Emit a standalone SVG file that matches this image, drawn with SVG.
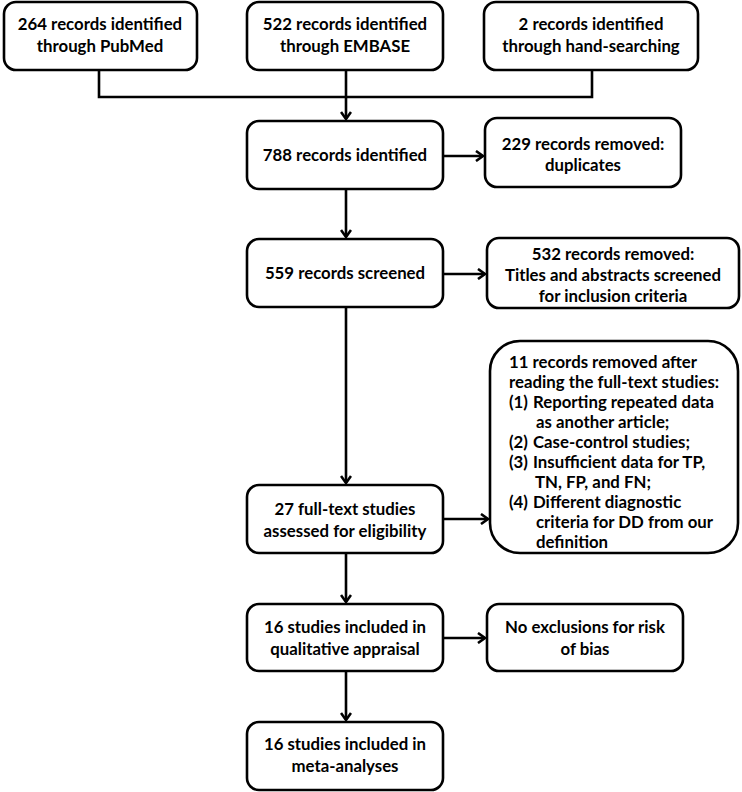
<svg xmlns="http://www.w3.org/2000/svg" width="742" height="792" viewBox="0 0 742 792">
<style>
.box{fill:#fff;stroke:#000;stroke-width:2.6}
.t{font-family:Lato,"Liberation Sans",sans-serif;font-weight:bold;font-size:16.8px;fill:#000;text-anchor:middle}
.l{text-anchor:start}
.c{fill:none;stroke:#000;stroke-width:2.6}
</style>
<defs>
<marker id="ah" markerWidth="12" markerHeight="12" refX="9" refY="6" orient="auto" markerUnits="userSpaceOnUse">
<path d="M2,1 L9,6 L2,11" fill="none" stroke="#000" stroke-width="2.6"/>
</marker>
</defs>
<g id="connectors">
<path class="c" d="M99,70 V97 H592 V70"/>
<path class="c" d="M346,70 V119" marker-end="url(#ah)"/>
<path class="c" d="M443,156 H483" marker-end="url(#ah)"/>
<path class="c" d="M346,189 V237" marker-end="url(#ah)"/>
<path class="c" d="M443,274 H485" marker-end="url(#ah)"/>
<path class="c" d="M346,307 V483" marker-end="url(#ah)"/>
<path class="c" d="M443,519 H488" marker-end="url(#ah)"/>
<path class="c" d="M346,553 V602" marker-end="url(#ah)"/>
<path class="c" d="M443,638 H485" marker-end="url(#ah)"/>
<path class="c" d="M346,671 V720" marker-end="url(#ah)"/>
</g>
<g id="n1"><rect class="box" x="4" y="2" width="193" height="68" rx="12"/>
<text class="t" x="100" y="30">264 records identified</text><text class="t" x="100" y="52">through PubMed</text></g>
<g id="n2"><rect class="box" x="247" y="2" width="196" height="68" rx="12"/>
<text class="t" x="345" y="30">522 records identified</text><text class="t" x="345" y="52">through EMBASE</text></g>
<g id="n3"><rect class="box" x="484" y="2" width="214" height="68" rx="12"/>
<text class="t" x="591" y="30">2 records identified</text><text class="t" x="591" y="52">through hand-searching</text></g>
<g id="n4"><rect class="box" x="247" y="121" width="196" height="68" rx="12"/>
<text class="t" x="345" y="161">788 records identified</text></g>
<g id="n5"><rect class="box" x="485" y="118" width="196" height="69" rx="12"/>
<text class="t" x="583" y="150">229 records removed:</text><text class="t" x="583" y="171">duplicates</text></g>
<g id="n6"><rect class="box" x="247" y="239" width="196" height="68" rx="12"/>
<text class="t" x="345" y="279">559 records screened</text></g>
<g id="n7"><rect class="box" x="487" y="238" width="252" height="70" rx="12"/>
<text class="t" x="613" y="260">532 records removed:</text><text class="t" x="613" y="281">Titles and abstracts screened</text><text class="t" x="613" y="302">for inclusion criteria</text></g>
<g id="n8"><rect class="box" x="247" y="485" width="196" height="68" rx="12"/>
<text class="t" x="345" y="515">27 full-text studies</text><text class="t" x="345" y="537">assessed for eligibility</text></g>
<g id="n9"><rect class="box" x="490" y="341" width="248" height="212" rx="30"/>
<text class="t l" x="509" y="368">11 records removed after</text>
<text class="t l" x="509" y="388">reading the full-text studies:</text>
<text class="t l" x="509" y="408">(1)</text><text class="t l" x="533" y="408">Reporting repeated data</text>
<text class="t l" x="536" y="428">as another article;</text>
<text class="t l" x="509" y="448">(2)</text><text class="t l" x="533" y="448">Case-control studies;</text>
<text class="t l" x="509" y="468">(3)</text><text class="t l" x="533" y="468">Insufficient data for TP,</text>
<text class="t l" x="535" y="488">TN, FP, and FN;</text>
<text class="t l" x="509" y="508">(4)</text><text class="t l" x="533" y="508">Different diagnostic</text>
<text class="t l" x="536" y="528">criteria for DD from our</text>
<text class="t l" x="536" y="548">definition</text></g>
<g id="n10"><rect class="box" x="247" y="604" width="196" height="67" rx="12"/>
<text class="t" x="345" y="633">16 studies included in</text><text class="t" x="345" y="655">qualitative appraisal</text></g>
<g id="n11"><rect class="box" x="487" y="604" width="196" height="67" rx="12"/>
<text class="t" x="585" y="633">No exclusions for risk</text><text class="t" x="585" y="655">of bias</text></g>
<g id="n12"><rect class="box" x="247" y="722" width="196" height="68" rx="12"/>
<text class="t" x="345" y="750">16 studies included in</text><text class="t" x="345" y="772">meta-analyses</text></g>
</svg>
